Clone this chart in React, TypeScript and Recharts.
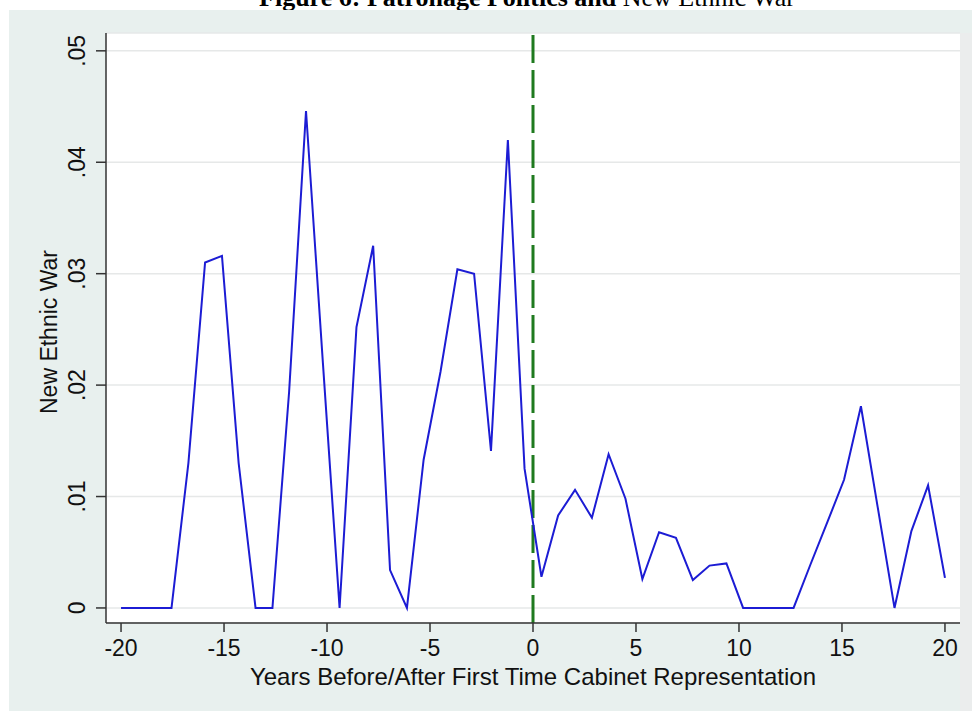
import { CartesianGrid, Label, Line, LineChart, ReferenceLine, XAxis, YAxis } from "recharts";

// years relative to first cabinet representation (50 bins from -20 to 20)
const years = [
  -20, -19.18, -18.37, -17.55, -16.73, -15.92, -15.1, -14.29, -13.47, -12.65,
  -11.84, -11.02, -10.2, -9.39, -8.57, -7.76, -6.94, -6.12, -5.31, -4.49,
  -3.67, -2.86, -2.04, -1.22, -0.41, 0.41, 1.22, 2.04, 2.86, 3.67,
  4.49, 5.31, 6.12, 6.94, 7.76, 8.57, 9.39, 10.2, 11.02, 11.84,
  12.65, 13.47, 14.29, 15.1, 15.92, 16.73, 17.55, 18.37, 19.18, 20,
];

const newEthnicWar = [
  0, 0, 0, 0, 0.013, 0.031, 0.0316, 0.013, 0, 0,
  0.0194, 0.0446, 0.022, 0, 0.0252, 0.0325, 0.0034, 0, 0.0133, 0.0212,
  0.0304, 0.03, 0.0141, 0.042, 0.0125, 0.0028, 0.0083, 0.0106, 0.0081, 0.0138,
  0.0098, 0.0026, 0.0068, 0.0063, 0.0025, 0.0038, 0.004, 0, 0, 0,
  0, 0.0039, 0.0077, 0.0115, 0.0181, 0.0091, 0, 0.0069, 0.011, 0.0027,
];

const xTicks = [-20, -15, -10, -5, 0, 5, 10, 15, 20];
const yTicks = [0, 0.01, 0.02, 0.03, 0.04, 0.05];

const chartData = years.map((year, i) => ({ year, value: newEthnicWar[i] }));

const sans = "'Liberation Sans', Arial, Helvetica, sans-serif";
const serif = "'Liberation Serif', 'Times New Roman', serif";

function formatY(v: number) {
  return v === 0 ? "0" : v.toFixed(2).replace(/^0/, "");
}

function RotatedYTick({ x, y, payload }: any) {
  return (
    <text x={x} y={y} transform={`rotate(-90, ${x}, ${y})`} textAnchor="middle" fontSize={23} fontFamily={sans} fill="#111">
      {formatY(payload.value)}
    </text>
  );
}

function YTitle({ viewBox }: any) {
  const cx = viewBox.x + 57;
  const cy = viewBox.y + viewBox.height / 2 + 4;
  return (
    <text x={cx} y={cy} transform={`rotate(-90, ${cx}, ${cy})`} textAnchor="middle" fontSize={23} fontFamily={sans} fill="#111">
      New Ethnic War
    </text>
  );
}

function XTitle({ viewBox }: any) {
  return (
    <text x={viewBox.x + viewBox.width / 2} y={viewBox.y + 62} textAnchor="middle" fontSize={24} fontFamily={sans} fill="#111">
      Years Before/After First Time Cabinet Representation
    </text>
  );
}

export default function App() {
  return (
    <div style={{ position: "absolute", left: 0, top: 0, width: 972, height: 711, background: "#fff", overflow: "hidden" }}>
      <svg width={972} height={12} style={{ position: "absolute", left: 0, top: 0 }}>
        <text x={527} y={6} textAnchor="middle" fontSize={26} fontFamily={serif} fill="#000">
          <tspan fontWeight="bold">Figure 6: Patronage Politics and </tspan>
          <tspan>New Ethnic War</tspan>
        </text>
      </svg>
      <div style={{ position: "absolute", left: 9, top: 10, width: 963, height: 701, background: "#e8f0ee" }} />
      <div style={{ position: "absolute", left: 960, top: 33, width: 12, height: 678, background: "#ebeded" }} />
      <div style={{ position: "absolute", left: 0, top: 0 }}>
        <LineChart width={972} height={711} data={chartData} margin={{ top: 33, right: 12, bottom: 0, left: 0 }}>
          <CartesianGrid vertical={false} stroke="#e6e8e8" strokeWidth={1.5} fill="#ffffff" />
          <XAxis
            dataKey="year"
            type="number"
            domain={[-20.73, 20.73]}
            ticks={xTicks}
            allowDataOverflow
            height={88}
            tickSize={9}
            tickMargin={8}
            stroke="#333"
            strokeWidth={1.5}
            tick={{ fontSize: 23, fontFamily: sans, fill: "#111" }}
          >
            <Label content={XTitle} />
          </XAxis>
          <YAxis
            type="number"
            domain={[-0.00135, 0.0516]}
            ticks={yTicks}
            allowDataOverflow
            width={106}
            tickSize={10}
            tickMargin={11}
            stroke="#333"
            strokeWidth={1.5}
            tick={RotatedYTick}
          >
            <Label content={YTitle} />
          </YAxis>
          <ReferenceLine x={0} stroke="#1f7a1f" strokeWidth={3} strokeDasharray="28 7" />
          <Line type="linear" dataKey="value" stroke="#1c1cd4" strokeWidth={2} dot={false} isAnimationActive={false} />
        </LineChart>
      </div>
    </div>
  );
}
